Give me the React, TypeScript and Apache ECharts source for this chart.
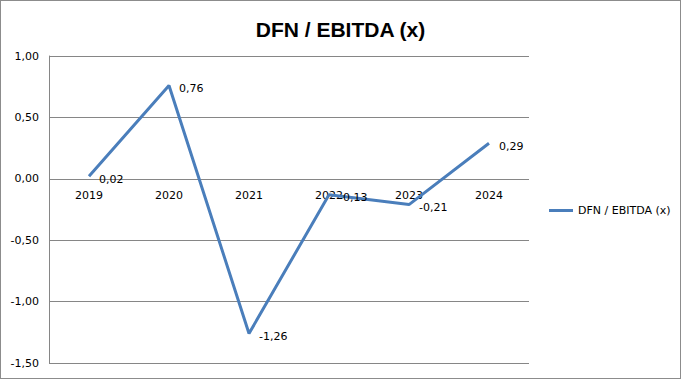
import React, { useEffect, useRef } from "react";
import * as echarts from "echarts";

const categories = ["2019", "2020", "2021", "2022", "2023", "2024"];
const values = [0.02, 0.76, -1.26, -0.13, -0.21, 0.29];
const seriesName = "DFN / EBITDA (x)";
const titleText = "DFN / EBITDA (x)";
const yMin = -1.5;
const yMax = 1;

const fmt = (v: number) => v.toFixed(2).replace(".", ",");

const W = 679;
const H = 377;
const gridTop = 55;
const gridBottom = 15;

export default function App() {
  const ref = useRef<HTMLDivElement>(null);
  useEffect(() => {
    document.body.style.margin = "0";
    const chart = echarts.init(ref.current!, null, { renderer: "svg" });
    const plotH = H - gridTop - gridBottom;
    const zeroFromBottom = plotH * ((0 - yMin) / (yMax - yMin));
    chart.setOption({
      animation: false,
      backgroundColor: "#ffffff",
      title: {
        text: titleText,
        left: "center",
        top: 13,
        textStyle: { fontFamily: "Liberation Sans", fontWeight: "bold", fontSize: 21, color: "#000" },
      },
      legend: {
        orient: "vertical",
        left: 543,
        top: 199,
        icon: "rect",
        itemWidth: 24,
        itemHeight: 3,
        itemGap: 4,
        textStyle: { fontFamily: "DejaVu Sans", fontSize: 11, color: "#000" },
        data: [seriesName],
      },
      grid: { left: 48, right: 151, top: gridTop, bottom: gridBottom, containLabel: false },
      xAxis: {
        type: "category",
        data: categories,
        boundaryGap: true,
        offset: -zeroFromBottom,
        axisLine: { show: false, onZero: false },
        axisTick: { show: false },
        axisLabel: { fontFamily: "DejaVu Sans", fontSize: 11, color: "#000", margin: 11 },
      },
      yAxis: {
        type: "value",
        min: yMin,
        max: yMax,
        interval: 0.5,
        axisLine: { show: true, lineStyle: { color: "#868686" } },
        axisTick: { show: false },
        splitLine: { show: true, lineStyle: { color: "#868686" } },
        axisLabel: { fontFamily: "DejaVu Sans", fontSize: 11, color: "#000", margin: 10, formatter: (v: number) => fmt(v) },
      },
      series: [
        {
          name: seriesName,
          type: "line",
          data: values,
          symbol: "circle",
          symbolSize: 0.1,
          showSymbol: true,
          lineStyle: { color: "#4a7ebb", width: 3 },
          itemStyle: { color: "#4a7ebb" },
          label: {
            show: true,
            position: "right",
            distance: 8,
            offset: [2, 3],
            fontFamily: "DejaVu Sans",
            fontSize: 11,
            color: "#000",
            formatter: (p: any) => fmt(p.value),
          },
        },
      ],
    });
    return () => chart.dispose();
  }, []);
  return (
    <div style={{ width: 681, height: 379, boxSizing: "border-box", border: "1px solid #8c8c8c" }}>
      <div ref={ref} style={{ width: W, height: H }} />
    </div>
  );
}
